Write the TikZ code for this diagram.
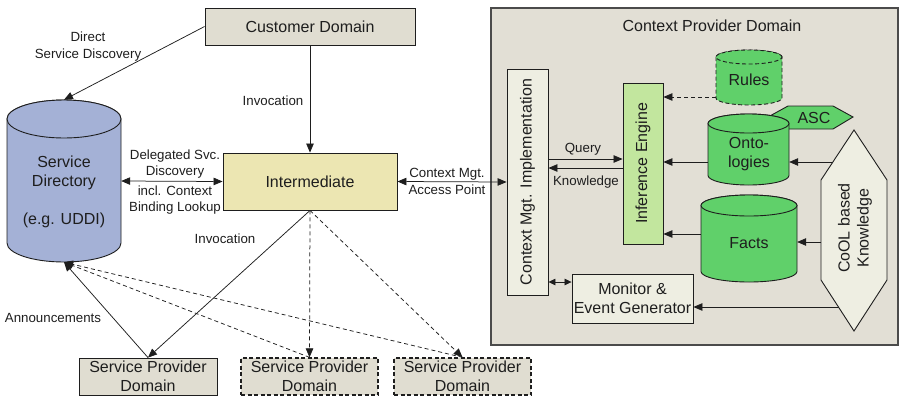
\documentclass[tikz,border=0pt]{standalone}
\usepackage{fontspec}
\setmainfont{Liberation Sans}
\usetikzlibrary{arrows.meta}

\definecolor{domainfill}{RGB}{224,221,209}
\definecolor{providerfill}{RGB}{226,223,213}
\definecolor{dirblue}{RGB}{164,177,214}
\definecolor{interyellow}{RGB}{236,230,178}
\definecolor{palebox}{RGB}{238,238,226}
\definecolor{enginegreen}{RGB}{194,230,158}
\definecolor{storegreen}{RGB}{96,208,106}
\definecolor{ink}{RGB}{30,30,30}

% cylinder: centre x, top-ellipse y, bottom-ellipse y, x radius, y radius, style
\newcommand{\drumshape}[6]{%
  \path[#6] ({#1-#4},#2) -- ({#1-#4},#3)
     arc[start angle=180,end angle=360,x radius=#4pt,y radius=#5pt]
     -- ({#1+#4},#2)
     arc[start angle=0,end angle=180,x radius=#4pt,y radius=#5pt] -- cycle;
  \path[#6] (#1,#2) ellipse[x radius=#4pt,y radius=#5pt];
}

\begin{document}
\begin{tikzpicture}[x=1pt,y=-1pt,
  box/.style={draw=ink, line width=0.9pt, inner sep=0pt, fill=domainfill},
  dashbox/.style={box, line width=1.3pt, dash pattern=on 4pt off 2.5pt},
  bigtext/.style={font=\fontsize{16}{19}\selectfont, text=ink, align=center, inner sep=0pt},
  smalltext/.style={font=\fontsize{13.3}{16.5}\selectfont, text=ink, align=center, inner sep=0pt},
  conn/.style={draw=ink, line width=0.75pt},
  dconn/.style={conn, dash pattern=on 4pt off 3pt},
  tip/.style={-{Triangle[length=9pt,width=7.5pt]}},
  dtip/.style={{Triangle[length=9pt,width=7.5pt]}-{Triangle[length=9pt,width=7.5pt]}},
  stip/.style={{Triangle[length=7pt,width=6.5pt]}-{Triangle[length=7pt,width=6.5pt]}},
  store/.style={draw=ink, line width=0.9pt, fill=storegreen},
  anchorbox/.style={inner sep=0pt, draw=none}
]
\useasboundingbox (0,0) rectangle (903,397);

% ---------- context provider domain ----------
\node[draw=ink!80, line width=1.2pt, fill=providerfill, inner sep=0pt,
      minimum width=407pt, minimum height=337pt] (cpd) at (694.5,176.5) {};
\node[bigtext] (cpdtitle) at (712,26) {Context Provider Domain};

\node[box, fill=palebox, minimum width=41pt, minimum height=226pt] (cmi) at (527.5,182) {};
\node[bigtext, rotate=90] (cmitext) at (cmi.center) {Context Mgt. Implementation};

\node[box, fill=enginegreen, minimum width=40pt, minimum height=161pt] (ie) at (643,163.5) {};
\node[bigtext, rotate=90] (ietext) at (ie.center) {Inference Engine};

\node[box, fill=palebox, minimum width=121pt, minimum height=49pt, bigtext] (mon) at (632.5,298.5) {Monitor \&\\Event Generator};

% knowledge stores
\drumshape{749}{57}{98}{33}{7}{store, dash pattern=on 4pt off 2.5pt}
\node[anchorbox, minimum width=66pt, minimum height=55pt] (rules) at (749,77.5) {};
\node[bigtext] (rulestext) at (749,80) {Rules};

\draw[store] (768,117) -- (788,106) -- (833,106) -- (853,117) -- (833,129) -- (788,129) -- cycle;
\node[anchorbox, minimum width=85pt, minimum height=23pt] (asc) at (810.5,117.5) {};
\node[bigtext] (asctext) at (814,117.5) {ASC};

\drumshape{748.5}{123.5}{175.5}{40.5}{9.5}{store}
\node[anchorbox, minimum width=81pt, minimum height=72pt] (onto) at (748.5,149.5) {};
\node[bigtext] (ontotext) at (749,154.5) {Onto-\\logies};

\drumshape{749}{205.5}{271.5}{48}{10.5}{store}
\node[anchorbox, minimum width=96pt, minimum height=87pt] (facts) at (749,238.5) {};
\node[bigtext] (factstext) at (749,243) {Facts};

% CoOL knowledge
\draw[draw=ink, line width=0.9pt, fill=palebox]
  (854,130) -- (887,180) -- (887,280) -- (854,331) -- (821,280) -- (821,180) -- cycle;
\node[bigtext, rotate=90] (cool) at (855,228) {CoOL based\\Knowledge};
\coordinate (coolA) at (833,162);
\coordinate (coolB) at (821,242);
\coordinate (coolC) at (838.5,307);

\draw[conn,tip] (coolA) -- (onto.east |- coolA);
\draw[conn,tip] (coolB) -- (facts.east |- coolB);
\draw[conn,tip] (coolC) -- (mon.east |- coolC);
\draw[conn,tip] (onto.west |- 0,162) -- (ie.east |- 0,162);
\draw[conn,tip] (facts.west |- 0,234) -- (ie.east |- 0,234);
\draw[dconn,tip] (rules.west |- 0,97) -- (ie.east |- 0,97);

\draw[conn,tip] (cmi.east |- 0,159) -- (ie.west |- 0,159);
\node[smalltext] (querylbl) at (583,149) {Query};
\draw[conn,tip] (ie.west |- 0,168) -- (cmi.east |- 0,168);
\node[smalltext] (knowlbl) at (586,182) {Knowledge};
\draw[conn,stip] (cmi.east |- 0,282) -- (mon.west |- 0,282);

% ---------- customer side ----------
\node[box, minimum width=210pt, minimum height=37pt, bigtext] (cust) at (310,26.5) {Customer Domain};

\drumshape{64}{119}{243}{57}{19}{draw=ink, line width=0.9pt, fill=dirblue}
\node[anchorbox, minimum width=114pt, minimum height=162pt] (sd) at (64,181) {};
\node[bigtext] (sdtext) at (64,172.5) {Service\\Directory};
\node[bigtext] (sdexample) at (64,220) {(e.g. UDDI)};

\node[box, fill=interyellow, minimum width=174pt, minimum height=57pt, bigtext] (inter) at (310,181.5) {Intermediate};

\node[box, minimum width=138pt, minimum height=37pt, bigtext] (sp1) at (148,376.5) {Service Provider\\Domain};
\node[dashbox, minimum width=137pt, minimum height=37pt, bigtext] (sp2) at (309.5,376.5) {Service Provider\\Domain};
\node[dashbox, minimum width=137pt, minimum height=37pt, bigtext] (sp3) at (462.5,376.5) {Service Provider\\Domain};

% connectors
\draw[conn,tip] (cust.west) -- (sd.north);
\node[smalltext] (directlbl) at (88,46.5) {Direct\\Service Discovery};

\draw[conn,tip] (cust.south) -- (inter.north);
\node[smalltext] (invlbl) at (273,101) {Invocation};

\draw[conn,dtip] (sd.east) -- (inter.west);
\node[smalltext] (delegA) at (175,164) {Delegated Svc.\\Discovery};
\node[smalltext] (delegB) at (175,200) {incl. Context\\Binding Lookup};

\draw[conn,dtip] (inter.east) -- (cmi.west);
\node[smalltext] (caplbl) at (447,181.5) {Context Mgt.\\Access Point};

\draw[conn,tip] (inter.south) -- (sp1.north);
\draw[dconn,tip] (inter.south) -- (sp2.north);
\draw[dconn,tip] (inter.south) -- (sp3.north);
\node[smalltext] (invlbl2) at (225,239) {Invocation};

\draw[dconn,tip] (sp2.north) -- (sd.south);
\draw[dconn,tip] (sp3.north) -- (sd.south);
\draw[conn,tip] (sp1.north) -- (sd.south);
\node[smalltext] (annlbl) at (53,318) {Announcements};
\end{tikzpicture}
\end{document}
